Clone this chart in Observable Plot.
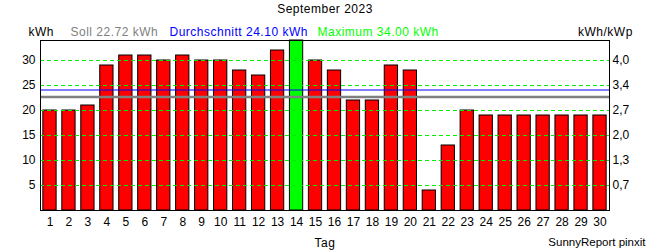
<!DOCTYPE html>
<html><head><meta charset="utf-8">
<script src="https://cdn.jsdelivr.net/npm/d3@7"></script>
<script src="https://cdn.jsdelivr.net/npm/@observablehq/plot@0.6"></script>
<style>
body{margin:0;background:#fff} svg{display:block}
g[aria-label="text"] text{letter-spacing:0.5px}
svg > g[aria-label="text"]:last-of-type text{letter-spacing:0}
</style>
</head><body><div id="chart"></div>
<script>
const days = [1,2,3,4,5,6,7,8,9,10,11,12,13,14,15,16,17,18,19,20,21,22,23,24,25,26,27,28,29,30];
const energy = [20,20,21,29,31,31,30,31,30,30,28,27,32,34,30,28,22,22,29,28,4,13,20,19,19,19,19,19,19,19];
const soll = 22.72;
const yTicks = [5,10,15,20,25,30];
const rightTickLabels = ["0,7","1,3","2,0","2,7","3,4","4,0"];
const title = "September 2023";
const unitLeft = "kWh";
const unitRight = "kWh/kWp";
const xLabel = "Tag";
const credit = "SunnyReport pinxit";

const fmt = v => v.toFixed(2);
const data = days.map((d, i) => ({day: d, value: energy[i]}));
const maxV = d3.max(energy);
const avgV = d3.mean(energy);

const W = 650, H = 250, mL = 40, mR = 41, mT = 40, mB = 40;
const stepEst = (W - mL - mR) / 30;
const hdr = {frameAnchor: "top-left", lineAnchor: "middle", textAnchor: "start", dy: -8, fontSize: 12};

const chart = Plot.plot({
  width: W, height: H,
  marginLeft: mL, marginRight: mR, marginTop: mT, marginBottom: mB,
  style: {fontFamily: "'Liberation Sans', Arial, sans-serif", fontSize: "12px", color: "#000", background: "#fff"},
  x: {type: "band", domain: days, padding: 0.3, round: false,
      range: [mL - 0.15 * stepEst, W - mR + 0.15 * stepEst]},
  y: {domain: [0, 34]},
  marks: [
    Plot.barY(data, {x: "day", y: "value", fill: d => d.value === maxV ? "#00ff00" : "#ff0000", stroke: "#000", strokeWidth: 1}),
    Plot.ruleY(yTicks, {stroke: "#00ee00", strokeDasharray: "4,3", strokeWidth: 1}),
    Plot.ruleY([soll], {stroke: "#808080", strokeWidth: 2.5}),
    Plot.ruleY([avgV], {stroke: "#0000ff", strokeWidth: 1.2}),
    Plot.frame({stroke: "#000"}),
    Plot.axisY(yTicks, {anchor: "left", tickSize: 0, tickPadding: 5, label: null, fontSize: 12}),
    Plot.axisY(yTicks, {anchor: "right", tickSize: 0, tickPadding: 3, label: null, fontSize: 12,
      tickFormat: d => rightTickLabels[yTicks.indexOf(d)]}),
    Plot.axisX({tickSize: 0, tickPadding: 7, label: null, fontSize: 12}),
    Plot.text([title], {text: d => d, frameAnchor: "top", lineAnchor: "middle", dy: -31.5, fontSize: 12, fill: "#000"}),
    Plot.text([unitLeft], {...hdr, text: d => d, dx: -12, fill: "#000"}),
    Plot.text(["Soll " + fmt(soll) + " kWh"], {...hdr, text: d => d, dx: 30, fill: "#808080"}),
    Plot.text(["Durchschnitt " + fmt(avgV) + " kWh"], {...hdr, text: d => d, dx: 129, fill: "#0000ff"}),
    Plot.text(["Maximum " + fmt(maxV) + " kWh"], {...hdr, text: d => d, dx: 277, fill: "#00ff00"}),
    Plot.text([unitRight], {...hdr, frameAnchor: "top-right", text: d => d, dx: -31.5, fill: "#000"}),
    Plot.text([xLabel], {text: d => d, frameAnchor: "bottom", lineAnchor: "middle", dy: 33, fontSize: 12, fill: "#000"}),
    Plot.text([credit], {text: d => d, frameAnchor: "bottom-right", lineAnchor: "middle", textAnchor: "end", dx: 36, dy: 31.5, fontSize: 11.5, fill: "#000"})
  ]
});
document.getElementById("chart").appendChild(chart);
</script>
</body></html>
